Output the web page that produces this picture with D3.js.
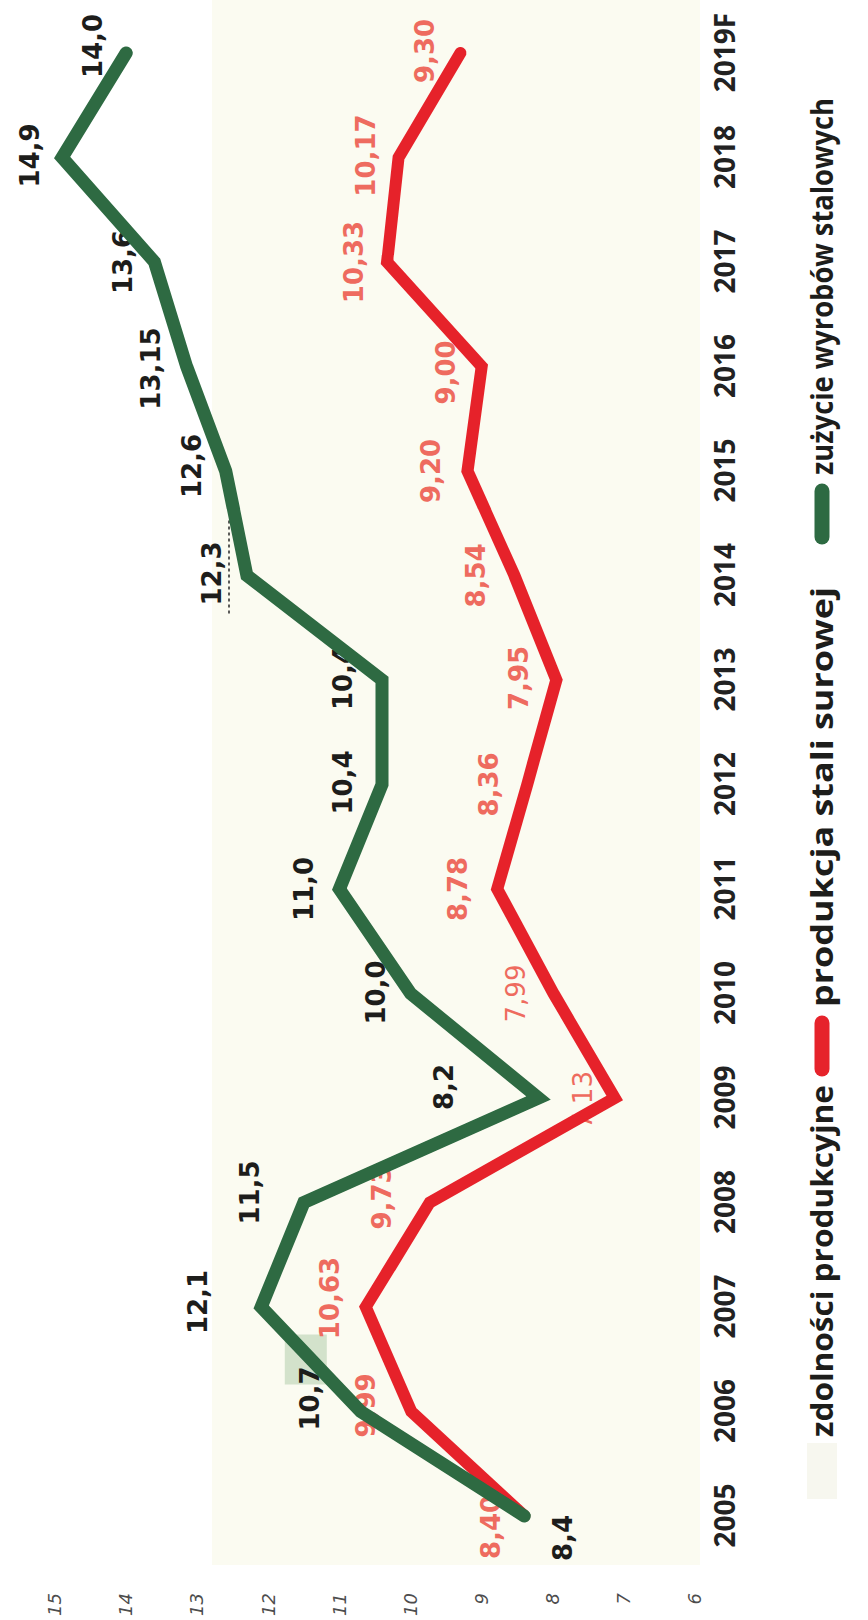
<!DOCTYPE html>
<html>
<head>
<meta charset="utf-8">
<script src="https://cdn.jsdelivr.net/npm/d3@7"></script>
<style>
  html, body { margin: 0; padding: 0; background: #ffffff; }
  svg { display: block; }
</style>
</head>
<body>
<svg id="chart" width="868" height="1620"></svg>
<script>
// ---- data -------------------------------------------------------------
const years = ["2005", "2006", "2007", "2008", "2009", "2010", "2011", "2012",
               "2013", "2014", "2015", "2016", "2017", "2018", "2019F"];

// zużycie wyrobów stalowych (mln t)
const consumption = [8.4, 10.7, 12.1, 11.5, 8.2, 10.0, 11.0, 10.4,
                     10.4, 12.3, 12.6, 13.15, 13.6, 14.9, 14.0];

// produkcja stali surowej (mln t)
const production = [8.40, 9.99, 10.63, 9.73, 7.13, 7.99, 8.78, 8.36,
                    7.95, 8.54, 9.20, 9.00, 10.33, 10.17, 9.30];

const valueTicks = [6, 7, 8, 9, 10, 11, 12, 13, 14, 15];

const legendItems = ["zdolności produkcyjne", "produkcja stali surowej", "zużycie wyrobów stalowych"];

// ---- styling / placement ----------------------------------------------
const W = 868, H = 1620;
const GREEN = "#2d6a42", RED = "#e6232b";
const GREEN_TXT = "#1d1d1b", RED_TXT = "#ee6b5f";

// label offsets in page pixels (dx to the right, dy downwards) from the point
const greenPlace = {
  "2005": [38, 22], "2006": [-51, -13], "2007": [-64, -5], "2008": [-54, -10],
  "2009": [-95, -11], "2010": [-35, -1], "2011": [-36, 0], "2012": [-39, -2],
  "2013": [-39, -2], "2014": [-35, -2], "2015": [-34, -5], "2016": [-36, 2],
  "2017": [-32, 0], "2018": [-32, -2], "2019F": [-33, -7]
};
const redPlace = {
  "2005": [-34, 11], "2006": [-46, -6], "2007": [-36, -9], "2008": [-48, -5],
  "2009": [-32, 2], "2010": [-38, 0], "2011": [-40, 0], "2012": [-39, 0],
  "2013": [-38, -2], "2014": [-39, 0], "2015": [-37, 0], "2016": [-36, 6],
  "2017": [-33, 0], "2018": [-33, -2], "2019F": [-36, -2]
};
const redWeight = { "2009": 400, "2010": 400, "2014": 600, "2019F": 600 };

const fmtGreen = v => (Number.isInteger(v) ? v.toFixed(1) : String(v)).replace(".", ",");
const fmtRed = v => v.toFixed(2).replace(".", ",");

// ---- chart ------------------------------------------------------------
const svg = d3.select("#chart");
svg.append("rect").attr("width", W).attr("height", H).attr("fill", "#ffffff");

const defs = svg.append("defs");
defs.append("filter").attr("id", "soft")
  .append("feGaussianBlur").attr("stdDeviation", 0.7);

// The chart is laid out lying on its side: years run upwards, values run right-to-left.
const g = svg.append("g").attr("transform", `translate(0,${H}) rotate(-90)`);

const x = d3.scalePoint().domain(years).range([104, 104 + 14 * 104.5]);
const y = d3.scaleLinear().domain([15, 6]).range([55, 695]);

// plot panel
g.append("rect")
  .attr("x", 55).attr("y", 212)
  .attr("width", H - 55).attr("height", 488)
  .attr("fill", "#fbfbf1");

// value axis (ticks only, no line)
const yAxis = g.append("g")
  .attr("transform", "translate(27,0)")
  .call(d3.axisLeft(y).tickValues(valueTicks).tickFormat(d3.format("d")).tickSize(0).tickPadding(0));
yAxis.select(".domain").remove();
yAxis.selectAll("text")
  .attr("fill", "#4d4d4d")
  .style("font-family", "'DejaVu Sans', sans-serif")
  .style("font-style", "italic")
  .style("font-size", "18px");

// year axis
const xAxis = g.append("g")
  .attr("transform", "translate(0,715)")
  .call(d3.axisBottom(x).tickSize(0).tickPadding(0));
xAxis.select(".domain").remove();
xAxis.selectAll("text")
  .attr("fill", "#222222")
  .attr("dy", "0.71em")
  .style("font-family", "'Open Sans', sans-serif")
  .style("font-weight", 700)
  .style("font-size", "28px");

// highlight patch behind the 2006 consumption label
{
  const px = x("2006") - greenPlace["2006"][1];
  const py = y(consumption[1]) + greenPlace["2006"][0];
  g.append("rect")
    .attr("x", px + 14).attr("y", py - 25)
    .attr("width", 50).attr("height", 42)
    .attr("fill", "#d3e2cb");
}

// dotted marks next to the 2014 consumption label
{
  const px = x("2014") - greenPlace["2014"][1];
  const py = y(consumption[9]) + greenPlace["2014"][0];
  g.append("line")
    .attr("x1", px - 40).attr("x2", px + 55)
    .attr("y1", py + 17).attr("y2", py + 17)
    .attr("stroke", "#333").attr("stroke-width", 1.6)
    .attr("stroke-dasharray", "3,3");
}

// value labels (drawn under the lines)
const labelFont = "'DejaVu Sans', 'Verdana', sans-serif";
g.append("g").selectAll("text")
  .data(years.map((yr, i) => ({ yr, v: production[i] })))
  .join("text")
  .attr("x", d => x(d.yr) - redPlace[d.yr][1])
  .attr("y", d => y(d.v) + redPlace[d.yr][0])
  .attr("text-anchor", "middle")
  .attr("dy", "0.36em")
  .attr("fill", RED_TXT)
  .style("font-family", labelFont)
  .style("font-weight", d => redWeight[d.yr] || 700)
  .style("font-size", "26px")
  .text(d => fmtRed(d.v));

g.append("g").selectAll("text")
  .data(years.map((yr, i) => ({ yr, v: consumption[i] })))
  .join("text")
  .attr("x", d => x(d.yr) - greenPlace[d.yr][1])
  .attr("y", d => y(d.v) + greenPlace[d.yr][0])
  .attr("text-anchor", "middle")
  .attr("dy", "0.36em")
  .attr("fill", GREEN_TXT)
  .style("font-family", labelFont)
  .style("font-weight", 700)
  .style("font-size", "26px")
  .text(d => fmtGreen(d.v));

// lines
const line = d3.line().x(d => x(d.yr)).y(d => y(d.v));

g.append("path")
  .datum(years.map((yr, i) => ({ yr, v: production[i] })))
  .attr("d", line)
  .attr("fill", "none")
  .attr("stroke", RED)
  .attr("stroke-width", 12)
  .attr("stroke-linejoin", "miter")
  .attr("stroke-linecap", "round")
  .attr("filter", "url(#soft)");

g.append("path")
  .datum(years.map((yr, i) => ({ yr, v: consumption[i] })))
  .attr("d", line)
  .attr("fill", "none")
  .attr("stroke", GREEN)
  .attr("stroke-width", 13)
  .attr("stroke-linejoin", "miter")
  .attr("stroke-linecap", "round")
  .attr("filter", "url(#soft)");

// legend
const legend = g.append("g").attr("transform", "translate(0,822)");
const legendFont = "'Open Sans', sans-serif";
const legendLayout = [
  { start: 183, len: 352, swatch: null },
  { start: 613, len: 420, swatch: RED },
  { start: 1145, len: 377, swatch: GREEN }
];
legendItems.forEach((name, i) => {
  const L = legendLayout[i];
  if (L.swatch) {
    legend.append("line")
      .attr("x1", L.start - 62).attr("x2", L.start - 16)
      .attr("y1", 0).attr("y2", 0)
      .attr("stroke", L.swatch)
      .attr("stroke-width", 15)
      .attr("stroke-linecap", "round");
  } else {
    legend.append("rect")
      .attr("x", L.start - 62).attr("y", -15)
      .attr("width", 56).attr("height", 30)
      .attr("fill", "#f7f7ef");
  }
  legend.append("text")
    .attr("x", L.start).attr("y", 0)
    .attr("dy", "0.36em")
    .attr("textLength", L.len)
    .attr("lengthAdjust", "spacingAndGlyphs")
    .attr("fill", "#1d1d1b")
    .style("font-family", legendFont)
    .style("font-weight", 700)
    .style("font-size", "31px")
    .text(name);
});
</script>
</body>
</html>
